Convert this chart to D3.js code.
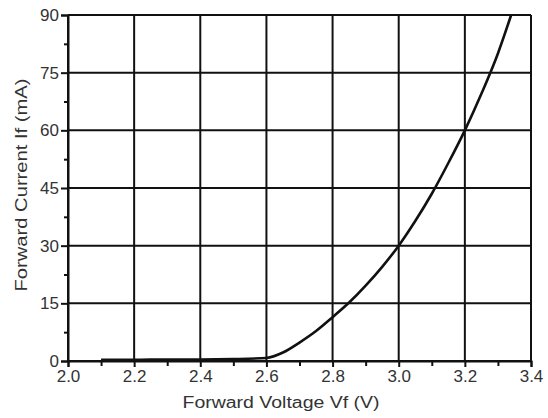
<!DOCTYPE html>
<html>
<head>
<meta charset="utf-8">
<script src="https://cdn.jsdelivr.net/npm/d3@7"></script>
<style>
  body { margin: 0; background: #fff; }
  svg text { font-family: "Liberation Sans", Arial, sans-serif; fill: #333; }
</style>
</head>
<body>
<div id="chart"></div>
<script>
// forward voltage (V) vs forward current (mA)
const voltage = [2.1, 2.2, 2.3, 2.4, 2.5, 2.6, 2.65, 2.7, 2.75, 2.8, 2.85, 2.9, 2.95, 3.0, 3.05, 3.1, 3.15, 3.2, 3.25, 3.3, 3.34];
const current = [0.3, 0.3, 0.4, 0.4, 0.5, 0.8, 2.2, 4.8, 7.8, 11.4, 15.2, 19.6, 24.5, 30, 36.4, 43.5, 51.5, 60, 69.5, 80, 90];

const xTicks = [2.0, 2.2, 2.4, 2.6, 2.8, 3.0, 3.2, 3.4];
const xMinor = [2.1, 2.3, 2.5, 2.7, 2.9, 3.1, 3.3];
const yTicks = [0, 15, 30, 45, 60, 75, 90];
const yMinor = [7.5, 22.5, 37.5, 52.5, 67.5, 82.5];

const xTitle = "Forward Voltage Vf (V)";
const yTitle = "Forward Current If (mA)";

const width = 548;
const height = 418;
const margin = { top: 15, right: 17, bottom: 57, left: 68 };

const svg = d3.select("#chart")
  .append("svg")
  .attr("width", width)
  .attr("height", height);

const x = d3.scaleLinear().domain([2.0, 3.4]).range([margin.left, width - margin.right]);
const y = d3.scaleLinear().domain([0, 90]).range([height - margin.bottom, margin.top]);

// grid
const grid = svg.append("g").attr("stroke", "#111").attr("stroke-width", 2);
grid.selectAll("line.v")
  .data(xTicks)
  .enter()
  .append("line")
  .attr("x1", d => x(d)).attr("x2", d => x(d))
  .attr("y1", y(0)).attr("y2", y(90));
grid.selectAll("line.h")
  .data(yTicks)
  .enter()
  .append("line")
  .attr("x1", x(2.0)).attr("x2", x(3.4))
  .attr("y1", d => y(d)).attr("y2", d => y(d));

// axes
svg.append("g")
  .attr("transform", `translate(0,${y(0)})`)
  .call(d3.axisBottom(x).tickValues(xTicks).tickFormat(d3.format(".1f")).tickSize(6).tickPadding(3));
svg.append("g")
  .attr("transform", `translate(0,${y(0)})`)
  .call(d3.axisBottom(x).tickValues(xMinor).tickFormat("").tickSize(5))
  .call(g => g.select(".domain").remove());

svg.append("g")
  .attr("transform", `translate(${x(2.0)},0)`)
  .call(d3.axisLeft(y).tickValues(yTicks).tickSize(7).tickPadding(2));
svg.append("g")
  .attr("transform", `translate(${x(2.0)},0)`)
  .call(d3.axisLeft(y).tickValues(yMinor).tickFormat("").tickSize(4))
  .call(g => g.select(".domain").remove());

svg.selectAll(".domain").attr("stroke", "#111").attr("stroke-width", 2);
svg.selectAll(".tick line").attr("stroke", "#111").attr("stroke-width", 2);
svg.selectAll(".tick text")
  .attr("font-size", 17)
  .attr("fill", "#333")
  .style("font-family", "'Liberation Sans', Arial, sans-serif");

// curve
const line = d3.line()
  .x((d, i) => x(voltage[i]))
  .y(d => y(d))
  .curve(d3.curveMonotoneX);

svg.append("path")
  .datum(current)
  .attr("fill", "none")
  .attr("stroke", "#111")
  .attr("stroke-width", 2.6)
  .attr("d", line);

// titles
svg.append("text")
  .attr("x", 281)
  .attr("y", 408)
  .attr("text-anchor", "middle")
  .attr("font-size", 16)
  .attr("textLength", 197)
  .attr("lengthAdjust", "spacingAndGlyphs")
  .text(xTitle);

svg.append("text")
  .attr("transform", `translate(27,185) rotate(-90)`)
  .attr("text-anchor", "middle")
  .attr("font-size", 16)
  .attr("textLength", 213)
  .attr("lengthAdjust", "spacingAndGlyphs")
  .text(yTitle);
</script>
</body>
</html>
